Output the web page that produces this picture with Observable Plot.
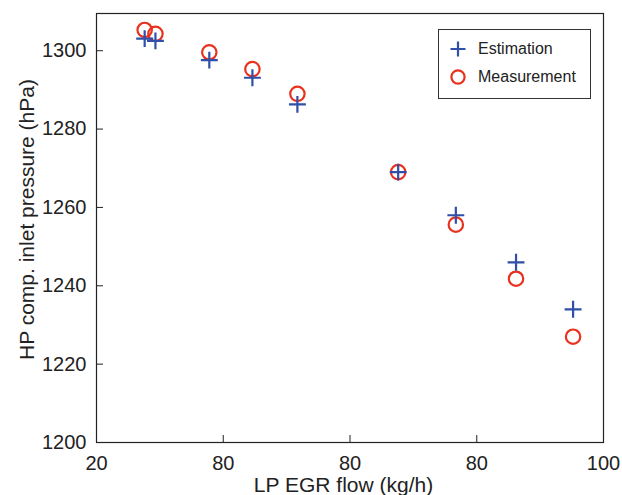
<!DOCTYPE html>
<html><head><meta charset="utf-8">
<script src="https://cdn.jsdelivr.net/npm/d3@7"></script>
<script src="https://cdn.jsdelivr.net/npm/@observablehq/plot@0.6"></script>
<style>
body{margin:0;background:#fff;font-family:"Liberation Sans",Arial,sans-serif;}
#wrap{position:relative;width:622px;height:495px;}
#legend{position:absolute;left:438px;top:29px;width:153px;height:70px;border:1px solid #333;background:#fff;box-sizing:border-box;font-size:16px;color:#222;}
#legend .row{position:absolute;left:10px;display:flex;align-items:center;}
#legend svg{margin-right:11px;}
</style></head>
<body><div id="wrap"><div id="legend">
<div class="row" style="top:10px"><svg width="18" height="18"><path d="M9,1.5V16.5M1.5,9H16.5" stroke="#2f4fa8" stroke-width="2.2"/></svg><span>Estimation</span></div>
<div class="row" style="top:38px"><svg width="18" height="18"><circle cx="9" cy="9" r="6.6" fill="none" stroke="#e8321e" stroke-width="2.2"/></svg><span>Measurement</span></div>
</div></div>
<script>
const flow = [27.6, 29.3, 37.8, 44.6, 51.7, 67.6, 76.7, 86.2, 95.2];
const estimation = [1303.1, 1302.5, 1297.6, 1293.1, 1286.3, 1269.0, 1258.0, 1246.0, 1234.0];
const measurement = [1305.3, 1304.3, 1299.6, 1295.3, 1289.0, 1269.0, 1255.6, 1241.8, 1227.0];
const xTicks = [20, 40, 60, 80, 100];
const xTickLabels = ["20", "80", "80", "80", "100"];
const yTicks = [1200, 1220, 1240, 1260, 1280, 1300];

const estData = flow.map((x, i) => ({x, y: estimation[i]}));
const measData = flow.map((x, i) => ({x, y: measurement[i]}));

const chart = Plot.plot({
  width: 622, height: 495,
  marginLeft: 96, marginRight: 19, marginTop: 13, marginBottom: 53,
  style: {fontFamily: "'Liberation Sans', Arial, sans-serif", fontSize: "20px", color: "#222", background: "#fff"},
  x: {domain: [20, 100]},
  y: {domain: [1200, 1309.5]},
  marks: [
    Plot.frame({stroke: "#222", strokeWidth: 1.2}),
    Plot.axisX({ticks: xTicks, tickSize: -7, tickPadding: 20, tickFormat: (d, i) => xTickLabels[i], label: null, fontSize: 20}),
    Plot.axisY({ticks: yTicks, tickSize: -7, tickPadding: 17, tickFormat: d => String(d), label: null, fontSize: 20}),
    Plot.text(["LP EGR flow (kg/h)"], {frameAnchor: "bottom", lineAnchor: "middle", textAnchor: "middle", dx: -6.5, dy: 42.5, fontSize: 21}),
    Plot.text(["HP comp. inlet pressure (hPa)"], {frameAnchor: "left", lineAnchor: "middle", textAnchor: "middle", dx: -69, dy: -8.5, rotate: -90, fontSize: 21}),
    Plot.dot(measData, {x: "x", y: "y", r: 7.2, stroke: "#e8321e", strokeWidth: 2.2, fill: "none"}),
    Plot.dot(estData, {x: "x", y: "y", symbol: "plus", r: 5.5, stroke: "#2f4fa8", strokeWidth: 2.2})
  ]
});
document.getElementById("wrap").prepend(chart);
</script></body></html>
